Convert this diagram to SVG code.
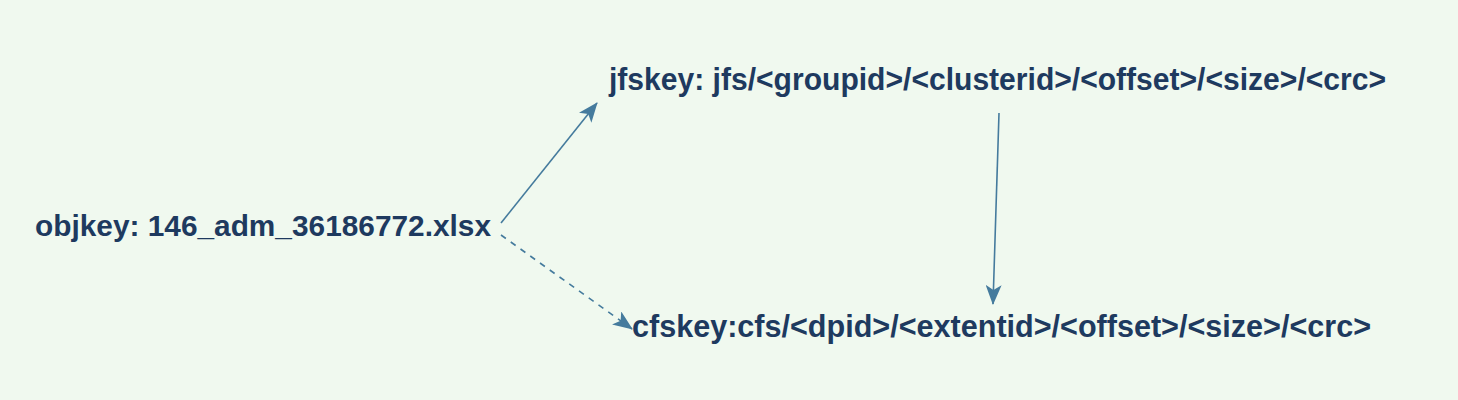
<svg xmlns="http://www.w3.org/2000/svg" width="1458" height="400" viewBox="0 0 1458 400">
<style>
.lbl{font-family:"Liberation Sans",Arial,Helvetica,sans-serif;font-weight:bold;font-size:29px;fill:#1e3a5f}
.tall{font-size:31px}
.edge{stroke:#457b9d;stroke-width:1.6;fill:none}
.dash{stroke-dasharray:6,6}
</style>
<defs>
<marker id="ah" viewBox="0 0 20 16" refX="19" refY="8" markerWidth="20" markerHeight="16" markerUnits="userSpaceOnUse" orient="auto">
<path d="M0,0 L20,8 L0,16 L5,8 Z" fill="#457b9d"/>
</marker>
</defs>
<rect width="1458" height="400" fill="#f0f9ef"/>
<g id="connectors">
<line class="edge" x1="501" y1="223" x2="597" y2="103" marker-end="url(#ah)"/>
<line class="edge dash" x1="501" y1="235" x2="632" y2="329" marker-end="url(#ah)"/>
<line class="edge" x1="999" y1="113" x2="993" y2="304" marker-end="url(#ah)"/>
</g>
<g id="objkey"><text class="lbl" x="35" y="236" textLength="456" lengthAdjust="spacingAndGlyphs">objkey: 146_adm_36186772.xlsx</text></g>
<g id="jfskey"><text class="lbl tall" x="609" y="90" textLength="777" lengthAdjust="spacingAndGlyphs">jfskey: jfs/&lt;groupid&gt;/&lt;clusterid&gt;/&lt;offset&gt;/&lt;size&gt;/&lt;crc&gt;</text></g>
<g id="cfskey"><text class="lbl tall" x="632" y="337" textLength="739" lengthAdjust="spacingAndGlyphs">cfskey:cfs/&lt;dpid&gt;/&lt;extentid&gt;/&lt;offset&gt;/&lt;size&gt;/&lt;crc&gt;</text></g>
</svg>
